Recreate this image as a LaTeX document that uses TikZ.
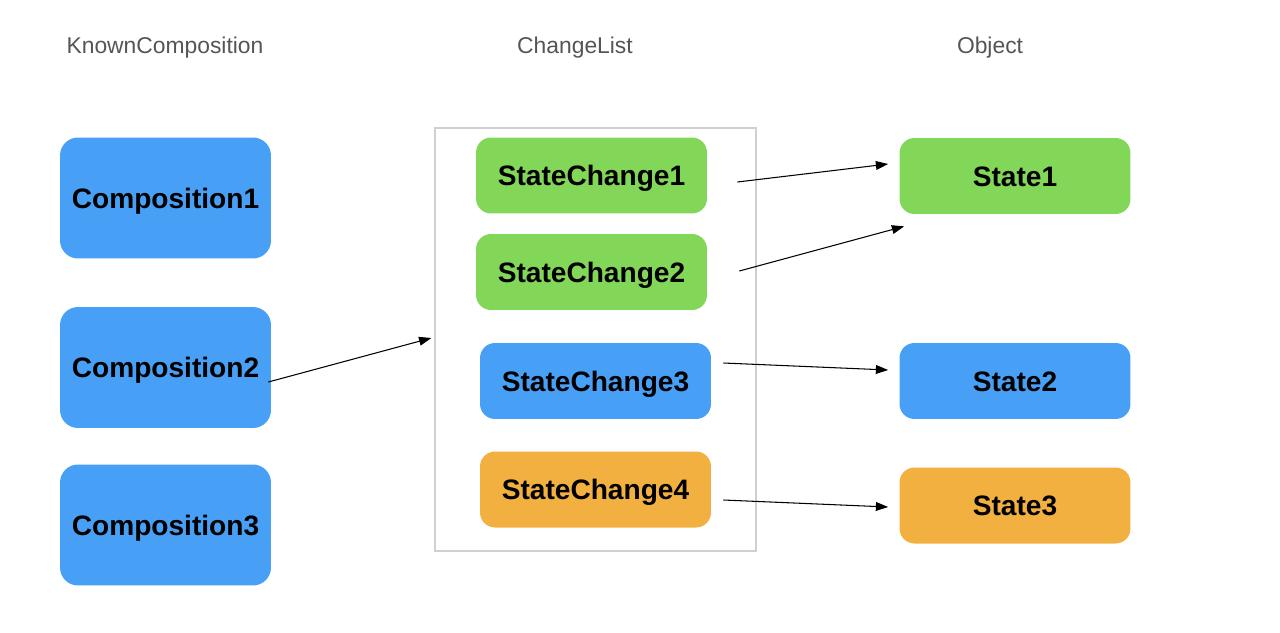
\documentclass[tikz,border=0pt]{standalone}
\usepackage{fontspec}
\setmainfont{Liberation Sans}
\usetikzlibrary{arrows.meta}
\definecolor{boxblue}{RGB}{72, 160, 246}
\definecolor{boxgreen}{RGB}{130, 215, 88}
\definecolor{boxorange}{RGB}{241, 176, 63}
\definecolor{titlegray}{RGB}{85, 85, 85}
\definecolor{framegray}{RGB}{208, 208, 208}
\tikzset{
  title/.style={text=titlegray, font=\fontsize{13}{15}\selectfont, text height=9.3pt, text depth=0pt},
  compbox/.style={fill=boxblue, rounded corners=0.36cm, minimum width=4.22cm, minimum height=2.42cm, font=\fontsize{16}{19}\selectfont\bfseries, text height=11.5pt, text depth=0pt},
  changebox/.style={rounded corners=0.3cm, minimum width=4.62cm, minimum height=1.52cm, font=\fontsize{16}{19}\selectfont\bfseries, text height=11.5pt, text depth=0pt},
  link/.style={-{Triangle[length=7pt,width=5pt]}, semithick}
}
\begin{document}
\begin{tikzpicture}[x=0.02cm, y=-0.02cm]
    \useasboundingbox (0,0) rectangle (1280,632);

    % column titles
    \node[title] (tknown) at (165,45) {KnownComposition};
    \node[title] (tlist) at (575,45) {ChangeList};
    \node[title] (tobject) at (990,45) {Object};

    % compositions
    \node[compbox] (comp1) at (165.5,198) {Composition1};
    \node[compbox] (comp2) at (165.5,367.5) {Composition2};
    \node[compbox] (comp3) at (165.5,525) {Composition3};

    % change list
    \node[draw=framegray, thick, minimum width=6.42cm, minimum height=8.46cm] (changelist) at (595.5,339.5) {};
    \node[changebox, fill=boxgreen] (sc1) at (591.5,175.5) {StateChange1};
    \node[changebox, fill=boxgreen] (sc2) at (591.5,272) {StateChange2};
    \node[changebox, fill=boxblue] (sc3) at (595.5,381) {StateChange3};
    \node[changebox, fill=boxorange] (sc4) at (595.5,489.5) {StateChange4};

    % object states
    \node[changebox, fill=boxgreen] (state1) at (1015,176) {State1};
    \node[changebox, fill=boxblue] (state2) at (1015,381) {State2};
    \node[changebox, fill=boxorange] (state3) at (1015,505.5) {State3};

    \draw[link] ([shift={(-3,14.5)}]comp2.east) -- ([shift={(-3,-1.5)}]changelist.west);
    \draw[link] ([shift={(30,6.5)}]sc1.east) -- ([shift={(-11,-12)}]state1.west);
    \draw[link] ([shift={(32,-1)}]sc2.east) -- ([shift={(5,12)}]state1.south west);
    \draw[link] ([shift={(12,-18)}]sc3.east) -- ([shift={(-11,-11)}]state2.west);
    \draw[link] ([shift={(12,10.5)}]sc4.east) -- ([shift={(-11,1.5)}]state3.west);
\end{tikzpicture}
\end{document}
